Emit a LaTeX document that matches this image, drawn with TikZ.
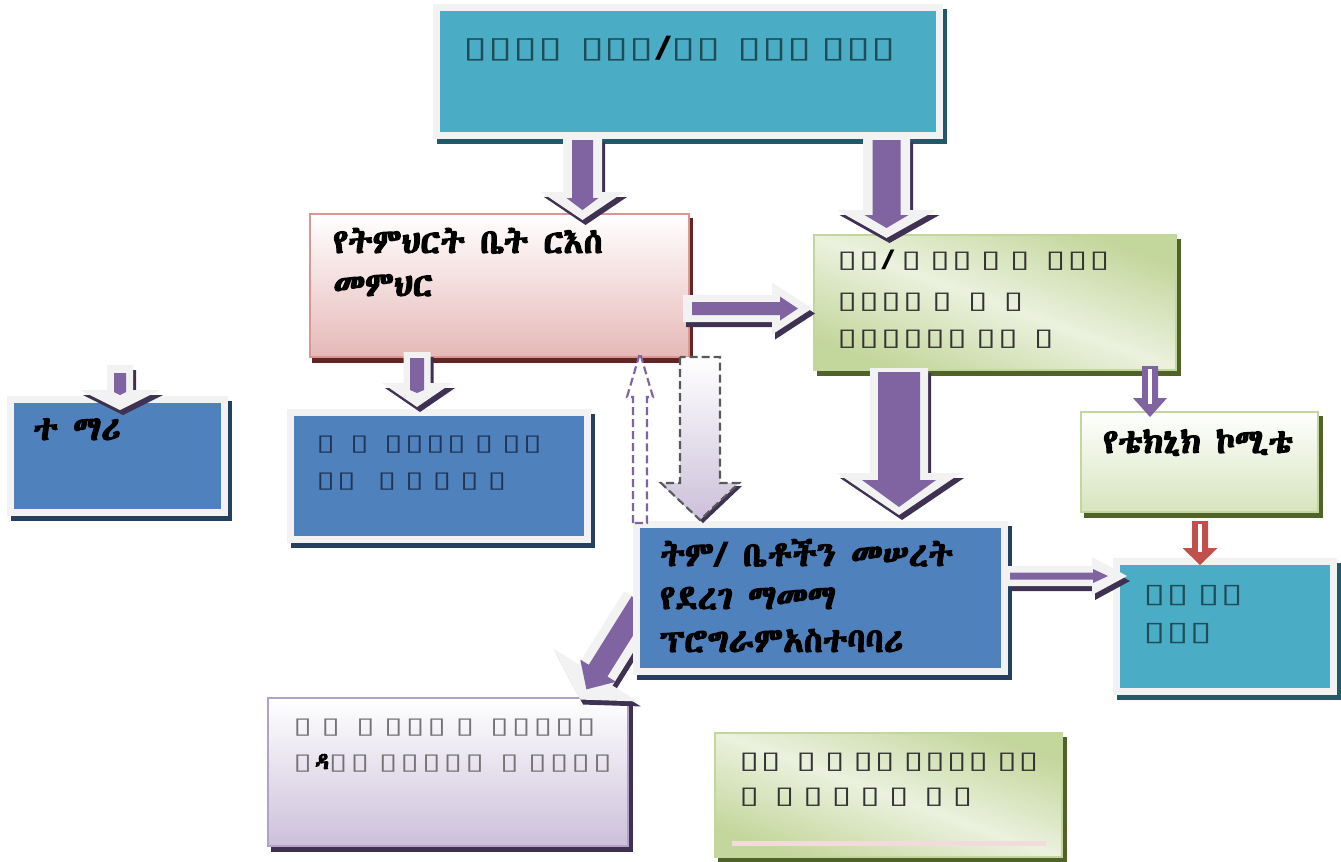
\documentclass[tikz,border=0pt]{standalone}
\usepackage{fontspec}
\usetikzlibrary{fit}
\newfontfamily\boxfont[FakeStretch=1.5,WordSpace=0.6]{DejaVu Sans}
\IfFontExistsTF{Abyssinica SIL}{\newfontfamily\ethfont[FakeBold=3.5]{Abyssinica SIL}}{%
  \IfFontExistsTF{FreeSerif}{\newfontfamily\ethfont[FakeBold=3]{FreeSerif}}{%
    \newfontfamily\ethfont{DejaVu Sans}}}
\definecolor{frm}{HTML}{F2F2F2}
\definecolor{tealc}{HTML}{4BACC6}
\definecolor{tealsh}{HTML}{215968}
\definecolor{tealtx}{HTML}{1E4D58}
\definecolor{bluec}{HTML}{4F81BD}
\definecolor{bluesh}{HTML}{243F60}
\definecolor{bluetx}{HTML}{1F3557}
\definecolor{pur}{HTML}{8064A2}
\definecolor{dpur}{HTML}{3F3151}
\definecolor{pinkb}{HTML}{D99694}
\definecolor{pinkc}{HTML}{E6B9B8}
\definecolor{redsh}{HTML}{632523}
\definecolor{grn}{HTML}{C3D69B}
\definecolor{grnl}{HTML}{EBF1DE}
\definecolor{grnsh}{HTML}{4F6228}
\definecolor{grnb}{HTML}{D7E4BD}
\definecolor{lav}{HTML}{CCC0DA}
\definecolor{lavb}{HTML}{B3A2C7}
\definecolor{redc}{HTML}{C0504D}
\definecolor{linepink}{HTML}{F2DCDB}
\definecolor{dashgray}{HTML}{595959}
\tikzset{
  framedbox/.style 2 args={inner sep=0pt, draw=frm, line width=5.25pt, fill=#1,
    preaction={fill=#2, draw=#2, line width=5.25pt, transform canvas={shift={(3pt,-3.75pt)}}}},
  pinkbox/.style={inner sep=0pt, draw=pinkb, line width=1.5pt, top color=white, bottom color=pinkc,
    preaction={fill=redsh, draw=redsh, line width=1.5pt, transform canvas={shift={(2.25pt,-3.75pt)}}}},
  greenbox/.style={inner sep=0pt, draw=grn, line width=1.8pt, top color=grn, bottom color=grn, middle color=grnl, shading angle=-20,
    preaction={fill=grnsh, draw=grnsh, line width=1.8pt, transform canvas={shift={(3pt,-3.75pt)}}}},
  techbox/.style={inner sep=0pt, draw=grn, line width=1.8pt, top color=white, bottom color=grnb,
    preaction={fill=grnsh, draw=grnsh, line width=1.8pt, transform canvas={shift={(3pt,-3.75pt)}}}},
  lavbox/.style={inner sep=0pt, draw=lavb, line width=1.8pt, top color=white, bottom color=lav,
    preaction={fill=dpur, draw=dpur, line width=1.8pt, transform canvas={shift={(3pt,-3.75pt)}}}},
  txt/.style={anchor=base west, inner sep=0pt},
  sqtext/.style 2 args={txt, font=\boxfont\fontsize{#1}{#1}\selectfont\def\sqp{#2}},
  eth/.style={txt, font=\ethfont\fontsize{25.5pt}{25.5pt}\selectfont, text=black},
  dasharrow/.style={line width=1.6pt, dash pattern=on 6pt off 3pt},
}
\newcommand\ashape[5]{(#5,-#2) -- ({#1-#4},-#2) -- ({#1-#4},-#3) -- (#1,0) -- ({#1-#4},#3) -- ({#1-#4},#2) -- (#5,#2) -- cycle}
\newcommand\blockarrow[4]{%
  \begin{scope}[shift={#1},shift={(3,5)},rotate=#2]\fill[dpur]\ashape#3;\end{scope}
  \begin{scope}[shift={#1},rotate=#2]\fill[frm]\ashape#3;\fill[pur]\ashape#4;\end{scope}}
\def\sqp{15pt}
\newcommand\sq{\makebox[\sqp][l]{▯}}
\newcommand\slsh{{\bfseries\color{black}/}}
\begin{document}
\begin{tikzpicture}[x=0.75pt,y=-0.75pt]
\fill[white] (0,0) rectangle (1341,861);
\useasboundingbox (0,0) rectangle (1341,861);
% boxes
\node[framedbox={tealc}{tealsh}, fit={(436.5,7.5)(939.5,135.5)}] (top) {};
\node[pinkbox, fit={(310,214)(689,357)}] (head) {};
\node[greenbox, fit={(814,235)(1176,370)}] (plan) {};
\node[framedbox={bluec}{bluesh}, fit={(10.5,399.5)(224.5,512.5)}] (student) {};
\node[framedbox={bluec}{bluesh}, fit={(290.5,412.5)(587.5,539.5)}] (mid) {};
\node[techbox, fit={(1081,412)(1318,512)}] (tech) {};
\node[framedbox={tealc}{tealsh}, fit={(1116.5,561.5)(1333.5,691.5)}] (fin) {};
\node[lavbox, fit={(268,698)(628,846)}] (lav) {};
\node[greenbox, fit={(715,733)(1062,857)}] (bgreen) {};
\coordinate (pl1) at (732,843);
\coordinate (pl2) at (1046,843);
\draw[linepink, line width=3.75pt] (pl1) -- (pl2);
% diagonal arrow to lavender box
\blockarrow{(641,602)}{-122}{{115}{20}{50}{29}{0}}{{103}{11}{21}{22}{0}}
\node[framedbox={bluec}{bluesh}, fit={(636.5,524.5)(1004.5,671.5)}] (coord) {};
% block arrows
\blockarrow{(582.5,137)}{-90}{{83}{19.5}{41.5}{28}{0}}{{73}{10.5}{16}{12}{3}}
\blockarrow{(886.5,137)}{-90}{{101}{23.5}{50}{28}{0}}{{91}{14}{22}{13}{3}}
\blockarrow{(683,308.5)}{0}{{129}{13.5}{26}{40}{0}}{{115}{6.5}{12}{18}{9}}
\blockarrow{(120,365)}{-90}{{45}{13}{40}{20}{0}}{{30}{6}{6}{3}{8}}
\blockarrow{(417,352)}{-90}{{55}{13.5}{35}{24}{0}}{{41}{7}{7}{3}{6}}
\blockarrow{(899,368)}{-90}{{147}{29}{62}{42}{0}}{{139}{21}{37}{27}{4}}
\blockarrow{(1008,576)}{0}{{119}{10}{19}{35}{0}}{{100}{3.5}{7}{15}{2}}
% small slit arrows
\begin{scope}[shift={(1150,366)},rotate=-90]
  \fill[pur] \ashape{51}{8}{17}{19}{0};
  \fill[white] (3,-2) rectangle (38,2);
\end{scope}
\begin{scope}[shift={(1200,521)},rotate=-90]
  \fill[redc] \ashape{44}{8}{17.5}{17}{0};
  \fill[white] (3,-2) rectangle (31,2);
\end{scope}
% dashed arrows
\fill[dpur] (664,486) -- (742,486) -- (703,523) -- cycle;
\draw[dasharrow, draw=dashgray, top color=white, bottom color=lav]
  (680,357) -- (680,483) -- (661,483) -- (700,520) -- (739,483) -- (720,483) -- (720,357) -- cycle;
\draw[dasharrow, draw=pur, fill=white]
  (633,523) -- (633,397) -- (627,397) -- (640,353) -- (653,397) -- (647,397) -- (647,523) -- cycle;
% texts
\node[sqtext={22pt}{18.75pt}, text=tealtx] (t1) at (463,57) {\sq\sq\sq\sq\ \ \sq\sq\sq\slsh\sq\sq\ \ \sq\sq\sq\ \sq\sq\sq};
\node[eth] (h1) at (333,253) {የትምህርት ቤት ርእሰ};
\node[eth] (h2) at (333,296) {መምህር};
\node[sqtext={18pt}{16.5pt}, text=black!80] (g1) at (837,267) {\sq\sq\slsh\ \sq\ \sq\sq\ \sq\ \sq\ \ \sq\sq\sq};
\node[sqtext={18pt}{16.5pt}, text=black!80] (g2) at (837,308) {\sq\sq\sq\sq\ \sq\ \ \sq\ \ \sq};
\node[sqtext={18pt}{16.5pt}, text=black!80] (g3) at (837,345) {\sq\sq\sq\sq\sq\sq\ \sq\sq\ \ \sq};
\node[eth] (s1) at (33,440) {ተ ማሪ};
\node[sqtext={17pt}{15.75pt}, text=bluetx] (m1) at (316,450) {\sq\ \ \sq\ \ \sq\sq\sq\sq\ \sq\ \sq\sq};
\node[sqtext={17pt}{15.75pt}, text=bluetx] (m2) at (316,487) {\sq\sq\ \ \ \sq\ \sq\ \sq\ \sq\ \sq};
\node[eth] (c1) at (660,566) {ትም/ ቤቶችን መሠረት};
\node[eth] (c2) at (660,609) {የደረገ ማመማ};
\node[eth] (c3) at (660,652) {ፕሮግራምአስተባባሪ};
\node[eth] (k1) at (1103,453) {የቴክኒክ ኮሚቴ};
\node[sqtext={20pt}{17.5pt}, text=tealtx] (f1) at (1143,602) {\sq\sq\ \sq\sq};
\node[sqtext={20pt}{17.5pt}, text=tealtx] (f2) at (1143,640) {\sq\sq\sq};
\node[sqtext={17pt}{16.25pt}, text=black!55] (l1) at (293,733) {\sq\ \sq\ \ \sq\ \sq\sq\sq\ \sq\ \ \sq\sq\sq\sq\sq};
\node[sqtext={17pt}{16.25pt}, text=black!55] (l2) at (293,769) {\sq{\ethfont\color{black}ዳ}\sq\sq\ \sq\sq\sq\sq\sq\ \ \sq\ \sq\sq\sq\sq};
\node[sqtext={18pt}{16.25pt}, text=black!80] (b1) at (739,768) {\sq\sq\ \ \sq\ \sq\ \sq\sq\ \sq\sq\sq\sq\ \sq\sq};
\node[sqtext={18pt}{16.25pt}, text=black!80] (b2) at (739,803) {\sq\ \ \sq\ \sq\ \sq\ \sq\ \sq\ \ \sq\ \sq};
\end{tikzpicture}
\end{document}
